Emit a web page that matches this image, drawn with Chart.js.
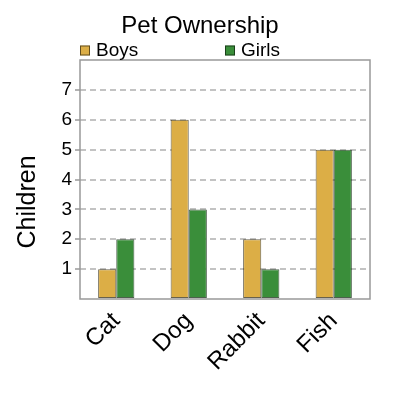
<!DOCTYPE html>
<html>
<head>
<meta charset="utf-8">
<script src="https://cdn.jsdelivr.net/npm/chart.js@4"></script>
<style>
html,body{margin:0;padding:0;background:#fff;}
#wrap{width:400px;height:400px;}
</style>
</head>
<body>
<div id="wrap"><canvas id="c" width="400" height="400"></canvas></div>
<script>
const categories = ['Cat', 'Dog', 'Rabbit', 'Fish'];
const boys = [1, 6, 2, 5];
const girls = [2, 3, 1, 5];
const seriesNames = ['Boys', 'Girls'];
const yTicks = [1, 2, 3, 4, 5, 6, 7];
const chartTitle = 'Pet Ownership';
const yTitle = 'Children';

const FONT = 'Liberation Sans, Arial, Helvetica, sans-serif';
const colors = ['#dcae46', '#3a8e3a'];

const frameAndLabels = {
  id: 'frameAndLabels',
  afterDraw(chart) {
    const ctx = chart.ctx;
    const a = chart.chartArea;
    ctx.save();
    ctx.strokeStyle = '#999';
    ctx.lineWidth = 1.5;
    ctx.strokeRect(a.left, a.top, a.right - a.left, a.bottom - a.top);
    // y axis title
    ctx.translate(28, 202);
    ctx.rotate(-Math.PI / 2);
    ctx.fillStyle = '#000';
    ctx.font = '25px ' + FONT;
    ctx.textAlign = 'center';
    ctx.textBaseline = 'middle';
    ctx.fillText(yTitle, 0, 0);
    ctx.restore();
    // legend
    ctx.save();
    const lx = [80, 225];
    ctx.font = '19px ' + FONT;
    ctx.textBaseline = 'alphabetic';
    seriesNames.forEach((n, i) => {
      ctx.fillStyle = colors[i];
      ctx.fillRect(lx[i], 45.5, 10, 10);
      ctx.strokeStyle = 'rgba(0,0,0,0.55)';
      ctx.lineWidth = 1;
      ctx.strokeRect(lx[i] + 0.5, 46, 9, 9);
      ctx.fillStyle = '#000';
      ctx.fillText(n, lx[i] + 16, 55.5);
    });
    ctx.restore();
  }
};

new Chart(document.getElementById('c'), {
  type: 'bar',
  data: {
    labels: categories,
    datasets: [
      { label: seriesNames[0], data: boys, backgroundColor: colors[0], borderColor: 'rgba(40,30,0,0.7)', borderWidth: 1, borderSkipped: false },
      { label: seriesNames[1], data: girls, backgroundColor: colors[1], borderColor: 'rgba(0,30,0,0.7)', borderWidth: 1, borderSkipped: false }
    ]
  },
  options: {
    responsive: false,
    animation: false,
    devicePixelRatio: 1,
    layout: { padding: 0 },
    datasets: { bar: { categoryPercentage: 0.5, barPercentage: 1.0 } },
    plugins: {
      legend: { display: false },
      tooltip: { enabled: false },
      title: {
        display: true,
        text: chartTitle,
        color: '#000',
        font: { family: FONT, size: 24, weight: 'normal' },
        padding: { top: 12, bottom: 19.2 }
      }
    },
    scales: {
      x: {
        grid: { display: false },
        border: { display: false },
        ticks: {
          color: '#000',
          font: { family: FONT, size: 24 },
          maxRotation: 45, minRotation: 45,
          padding: 0
        },
        afterFit(s) { s.height = 101; }
      },
      y: {
        min: 0, max: 8,
        border: { display: false, dash: [6, 4] },
        grid: {
          color: (c) => (c.tick && yTicks.includes(c.tick.value)) ? '#c3c3c3' : 'rgba(0,0,0,0)',
          lineWidth: 2,
          tickLength: 5,
          tickWidth: 1.5,
          tickBorderDash: [],
          tickColor: (c) => (c.tick && yTicks.includes(c.tick.value)) ? '#999' : 'rgba(0,0,0,0)'
        },
        ticks: {
          stepSize: 1,
          color: '#000',
          padding: 3,
          font: { family: FONT, size: 19 },
          callback: (v) => yTicks.includes(v) ? String(v) : ''
        },
        afterFit(s) { s.width = 80; }
      },
      yRight: {
        position: 'right',
        display: true,
        grid: { display: false },
        border: { display: false },
        ticks: { display: false },
        afterFit(s) { s.width = 30; }
      }
    }
  },
  plugins: [frameAndLabels]
});
</script>
</body>
</html>
